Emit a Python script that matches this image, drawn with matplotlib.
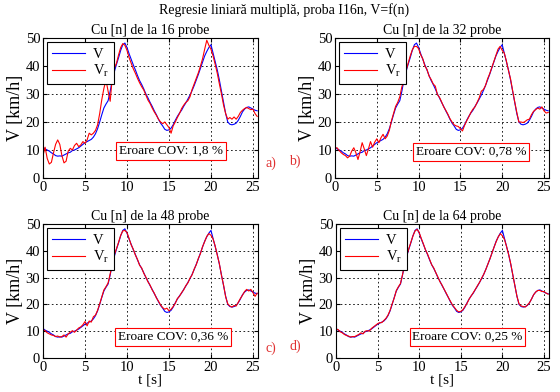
import numpy as np
import matplotlib
matplotlib.use("Agg")
import matplotlib.pyplot as plt

plt.rcParams['font.family'] = ['Liberation Serif', 'DejaVu Serif']
plt.rcParams['mathtext.fontset'] = 'custom'
plt.rcParams['mathtext.rm'] = 'Liberation Serif'
plt.rcParams['mathtext.it'] = 'Liberation Serif'

t = np.arange(0, 25.51, 0.25)

V = [11.0, 10.4, 10.0, 9.6, 9.0, 8.6, 8.0, 7.8, 7.9, 7.8, 8.2, 8.6, 9.0, 9.2, 9.8, 10.0,
     10.4, 10.8, 11.4, 12.0, 12.6, 13.0, 13.4, 13.8, 14.6, 15.8, 17.6, 20.0, 22.6, 25.0, 26.4, 27.6,
     31.0, 35.0, 38.0, 40.6, 43.0, 45.6, 47.6, 48.2, 46.6, 44.4, 42.4, 40.4, 38.6, 36.6, 34.8, 33.4,
     31.8, 30.0, 28.6, 27.0, 25.6, 24.0, 22.6, 21.0, 19.6, 18.6, 17.4, 17.0, 17.2, 17.8, 19.0, 20.6,
     22.0, 23.2, 24.2, 25.6, 26.8, 28.2, 29.6, 31.2, 33.0, 35.0, 37.0, 39.2, 41.4, 43.6, 45.2, 46.6,
     47.6, 44.6, 41.6, 38.6, 35.0, 31.0, 27.0, 23.0, 20.0, 19.2, 19.0, 19.2, 19.6, 20.6, 22.0, 23.6,
     24.6, 25.2, 25.4, 25.0, 24.6, 24.2, 24.0]

Vr16 = [8.0, 11.0, 7.0, 5.0, 5.6, 9.0, 12.0, 13.6, 12.0, 8.0, 5.4, 6.0, 9.6, 10.6, 10.0, 11.6,
        12.4, 11.2, 11.8, 13.0, 12.4, 13.6, 16.0, 15.4, 16.0, 17.0, 19.0, 23.0, 28.0, 32.0, 35.0, 31.0,
        27.4, 36.0, 39.4, 41.0, 44.0, 46.6, 48.0, 47.4, 45.6, 43.0, 41.0, 39.0, 37.4, 35.6, 34.0, 32.6,
        31.4, 29.6, 27.8, 26.6, 25.0, 23.6, 22.4, 21.0, 20.0, 19.4, 20.0, 19.0, 18.0, 16.0, 18.6, 20.0,
        21.6, 23.0, 24.8, 26.0, 27.0, 27.6, 29.0, 31.6, 33.6, 35.6, 37.6, 40.0, 42.6, 46.0, 49.2, 47.4,
        46.0, 43.6, 40.6, 37.4, 33.6, 30.0, 26.0, 23.0, 21.0, 21.6, 21.0, 21.8, 21.0, 22.0, 23.4, 24.2,
        24.8, 25.2, 24.8, 24.4, 24.6, 23.0, 22.0]

Vr32 = [10.6, 10.8, 9.8, 9.0, 8.4, 8.0, 7.2, 7.8, 9.6, 10.8, 9.0, 6.6, 9.4, 12.6, 10.4, 8.0,
        10.4, 13.0, 11.0, 12.8, 14.0, 12.6, 14.4, 15.6, 14.0, 15.0, 17.0, 20.4, 23.0, 25.6, 27.0, 29.0,
        32.6, 34.6, 38.4, 41.0, 43.6, 45.8, 47.0, 47.0, 46.2, 44.0, 42.6, 40.0, 38.8, 36.4, 35.2, 33.6,
        32.8, 29.8, 28.8, 27.2, 25.4, 24.2, 22.8, 21.2, 20.0, 19.0, 18.6, 18.4, 17.6, 16.8, 18.8, 20.4,
        21.8, 23.4, 24.6, 25.4, 27.0, 28.6, 31.0, 31.6, 33.0, 35.4, 37.2, 39.4, 41.6, 43.8, 46.0, 47.0,
        45.6, 44.6, 41.8, 38.4, 35.4, 31.2, 27.2, 23.4, 20.0, 20.0, 19.8, 20.2, 20.8, 21.0, 22.6, 23.8,
        24.4, 25.0, 24.6, 25.4, 24.0, 23.2, 23.4]

Vr48 = [10.6, 10.2, 9.4, 9.0, 8.6, 8.4, 8.0, 8.2, 7.8, 8.0, 8.6, 7.8, 9.0, 9.6, 10.2, 9.6,
        10.4, 11.2, 11.6, 12.4, 13.6, 12.0, 13.8, 13.4, 15.4, 16.0, 17.8, 20.2, 22.8, 25.4, 26.6, 28.0,
        31.4, 35.2, 38.6, 40.8, 43.2, 45.8, 47.4, 47.6, 46.8, 44.6, 42.2, 40.6, 38.4, 36.8, 34.6, 33.6,
        31.6, 30.2, 28.4, 27.2, 25.4, 24.2, 22.4, 21.2, 19.8, 18.8, 18.2, 18.6, 17.6, 18.2, 19.2, 20.4,
        22.2, 23.0, 24.4, 25.4, 27.0, 28.0, 29.8, 31.0, 33.2, 34.8, 37.2, 39.0, 41.6, 43.4, 45.4, 46.4,
        45.8, 44.4, 41.8, 38.4, 35.2, 30.8, 27.2, 22.8, 20.2, 19.4, 19.0, 19.6, 19.4, 20.8, 22.2, 23.4,
        24.8, 25.6, 25.0, 25.6, 24.4, 23.0, 24.2]

Vr64 = [10.8, 10.6, 9.8, 9.4, 8.8, 8.4, 8.2, 7.8, 8.0, 8.0, 8.4, 8.8, 9.4, 9.0, 10.0, 10.2,
        10.0, 11.0, 11.6, 12.2, 12.8, 13.2, 13.2, 14.0, 14.8, 16.0, 17.8, 20.2, 22.4, 25.2, 26.6, 27.8,
        31.2, 35.0, 38.2, 40.8, 43.2, 45.6, 47.4, 48.0, 46.8, 44.6, 42.6, 40.4, 38.8, 36.8, 34.8, 33.6,
        31.8, 30.2, 28.4, 27.2, 25.6, 24.2, 22.6, 21.2, 19.8, 18.8, 17.8, 17.2, 17.4, 18.0, 19.2, 20.4,
        22.0, 23.2, 24.4, 25.6, 27.0, 28.2, 29.8, 31.2, 33.0, 35.0, 37.0, 39.2, 41.4, 43.4, 45.2, 46.4,
        45.6, 44.2, 41.6, 38.6, 35.2, 31.0, 27.0, 23.0, 20.2, 19.4, 19.2, 19.0, 19.8, 20.6, 22.0, 23.6,
        24.6, 25.2, 25.2, 24.8, 24.8, 24.2, 23.8]

titles = ["Cu [n] de la 16 probe", "Cu [n] de la 32 probe",
          "Cu [n] de la 48 probe", "Cu [n] de la 64 probe"]
errors = ["Eroare COV: 1,8 %", "Eroare COV: 0,78 %",
          "Eroare COV: 0,36 %", "Eroare COV: 0,25 %"]
letters = ["a)", "b)", "c)", "d)"]
series = [Vr16, Vr32, Vr48, Vr64]
xticks = [0, 5, 10, 15, 20, 25]
yticks = [0, 10, 20, 30, 40, 50]

W, H = 560, 392
fig = plt.figure(figsize=(5.6, 3.92), dpi=100)
fig.patch.set_facecolor('white')

boxes = [(43, 38, 258, 178), (335, 38, 549, 178), (43, 224, 258, 358), (336, 224, 549, 358)]
errpos = [(0.595, 0.193), (0.636, 0.186), (0.605, 0.157), (0.617, 0.157)]
letpos = [(265, 163), (289, 161), (265, 348), (289, 346)]

fig.text(284 / W, 1 - 10 / H, "Regresie liniară multiplă, proba I16n, V=f(n)",
         ha='center', va='center', fontsize=10)

for i in range(4):
    x0, y0, x1, y1 = boxes[i]
    ax = fig.add_axes([x0 / W, 1 - y1 / H, (x1 - x0) / W, (y1 - y0) / H])
    ax.plot(t, V, color='#0000ff', lw=0.8, label='V')
    ax.plot(t, series[i], color='#ff0000', lw=0.8, label='V$_{\\mathrm{r}}$')
    ax.set_xlim(0, 25.6)
    ax.set_ylim(0, 50)
    ax.set_xticks(xticks)
    ax.set_yticks(yticks)
    ax.tick_params(direction='in', length=3, labelsize=10.5, pad=2, top=True, right=True)
    ax.grid(True, color='black', linestyle=(0, (2, 3)), linewidth=0.6)
    for s in ax.spines.values():
        s.set_linewidth(0.8)
    ax.set_title(titles[i], fontsize=10, pad=3)
    ax.set_ylabel("V [km/h]", fontsize=13, labelpad=1)
    if i >= 2:
        ax.set_xlabel("t [s]", fontsize=11, labelpad=0)
    leg = ax.legend(loc='upper left', fontsize=10.5, frameon=True, fancybox=False,
                    edgecolor='black', framealpha=1, borderpad=0.35, handlelength=2.2,
                    labelspacing=0.15, borderaxespad=0.3, handletextpad=0.6)
    leg.get_frame().set_linewidth(0.8)
    ex, ey = errpos[i]
    ax.text(ex, ey, errors[i], transform=ax.transAxes, ha='center', va='center',
            fontsize=9.5, bbox=dict(boxstyle='square,pad=0.2', fc='white', ec='#ff0000', lw=0.8))
    lx, ly = letpos[i]
    fig.text(lx / W, 1 - ly / H, letters[i], ha='left', va='center', fontsize=10, color='#e03030')

fig.savefig("out.png", dpi=100)
